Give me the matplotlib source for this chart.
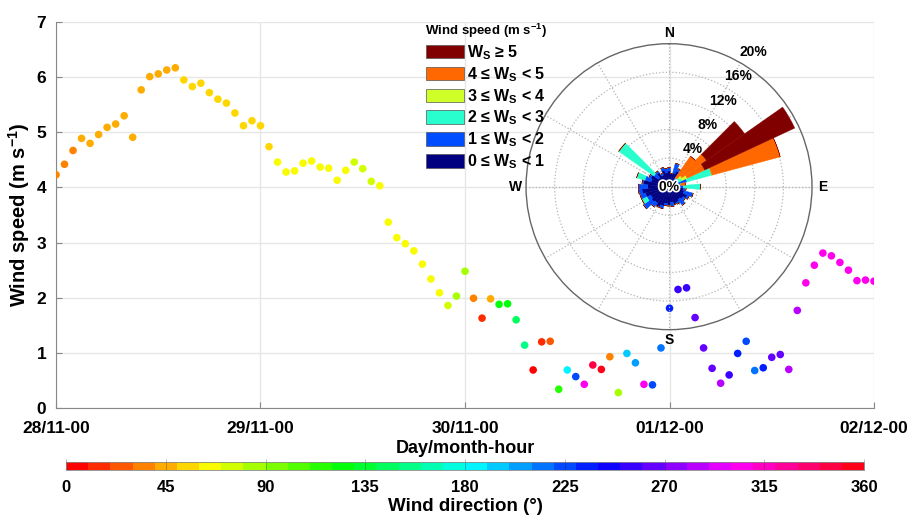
import numpy as np
import pandas as pd
import matplotlib
matplotlib.use('Agg')
import matplotlib.pyplot as plt
import matplotlib.dates as mdates
from matplotlib.patches import Patch
import matplotlib.patheffects as pe

plt.rcParams['font.family'] = ['Liberation Sans', 'DejaVu Sans']
plt.rcParams['font.weight'] = 'bold'
plt.rcParams['axes.labelweight'] = 'bold'
plt.rcParams['mathtext.default'] = 'regular'

# hourly observations from 28/11-00 to 02/12-00
times = pd.date_range('2000-11-28 00:00', '2000-12-02 00:00', freq='h')

speed = [4.23, 4.42, 4.67, 4.89, 4.80, 4.96, 5.09, 5.15, 5.30, 4.91,
         5.77, 6.01, 6.06, 6.13, 6.17, 5.95, 5.83, 5.89, 5.72, 5.60,
         5.53, 5.35, 5.12, 5.21, 5.12, 4.74, 4.46, 4.28, 4.30, 4.44,
         4.48, 4.37, 4.35, 4.13, 4.31, 4.46, 4.34, 4.11, 4.03, 3.37,
         3.09, 2.98, 2.85, 2.61, 2.34, 2.09, 1.86, 2.03, 2.48, 1.99,
         1.63, 1.98, 1.88, 1.89, 1.60, 1.14, 0.69, 1.20, 1.21, 0.34,
         0.69, 0.57, 0.43, 0.78, 0.70, 0.93, 0.28, 0.99, 0.82, 0.43,
         0.42, 1.09, 1.81, 2.15, 2.18, 1.64, 1.09, 0.72, 0.45, 0.60,
         0.99, 1.21, 0.68, 0.73, 0.92, 0.97, 0.70, 1.77, 2.27, 2.59,
         2.81, 2.76, 2.64, 2.50, 2.31, 2.32, 2.30]

direction = [30, 35, 35, 42, 40, 45, 45, 45, 45, 45,
             48, 48, 48, 48, 48, 52, 52, 52, 52, 52,
             52, 55, 52, 52, 55, 58, 62, 62, 62, 62,
             62, 62, 62, 62, 62, 75, 75, 78, 65, 62,
             62, 62, 62, 62, 62, 62, 78, 82, 85, 32,
             18, 45, 120, 120, 145, 155, 5, 18, 25, 110,
             185, 222, 305, 345, 355, 30, 85, 192, 205, 305,
             225, 215, 232, 250, 250, 262, 262, 265, 282, 255,
             238, 225, 212, 235, 265, 268, 285, 285, 305, 305,
             305, 305, 305, 305, 308, 308, 308]

# wind rose: frequency (%) per 10 deg sector for each speed class
sectors = np.arange(0, 360, 10)
rose_0_1 = [2.2, 1.9, 2.0, 2.4, 0.9, 0.8, 0.8, 1.2, 1.2, 1.2, 2.0, 2.2,
            2.8, 2.4, 2.2, 2.4, 2.6, 2.2, 2.7, 2.4, 2.8, 3.2, 2.8, 3.0,
            2.8, 3.4, 3.8, 3.0, 3.6, 2.6, 2.8, 1.8, 2.4, 1.8, 2.4, 2.0]
rose_1_2 = [0.5, 0.0, 1.4, 0.4, 0.6, 0.6, 0.6, 1.4, 0.5, 0.8, 0.4, 1.3,
            0.3, 0.4, 1.0, 0.3, 0.0, 0.6, 0.0, 0.3, 0.4, 0.0, 0.7, 1.4,
            0.6, 0.8, 0.5, 1.3, 0.2, 0.9, 0.3, 0.8, 0.3, 0.3, 0.4, 0.6]
rose_2_3 = [0, 0, 0, 0, 0, 0.4, 0.6, 3.6, 0, 2.4, 0, 0,
            0, 0, 0, 0, 0, 0, 0, 0, 0, 0, 0, 0,
            0.8, 0, 0, 0, 0, 1.2, 0, 6.0, 0, 0, 0, 0]
rose_3_4 = [0, 0, 0, 0, 0, 0.4, 0.8, 0, 0, 0, 0, 0,
            0, 0, 0, 0, 0, 0, 0, 0, 0, 0, 0, 0,
            0, 0, 0, 0, 0, 0, 0, 0, 0, 0, 0, 0]
rose_4_5 = [0, 0, 0, 0, 3.7, 4.2, 2.7, 9.9, 0.6, 0, 0, 0,
            0, 0, 0, 0, 0, 0, 0, 0, 0, 0, 0, 0,
            0, 0, 0, 0, 0, 0, 0, 0, 0, 0, 0, 0]
rose_5_up = [0, 0, 0, 0, 0, 6.5, 13.9, 0, 0, 0, 0, 0,
             0, 0, 0, 0, 0, 0, 0, 0, 0, 0, 0, 0,
             0, 0, 0, 0, 0, 0, 0, 0, 0, 0, 0, 0]
rose = [rose_0_1, rose_1_2, rose_2_3, rose_3_4, rose_4_5, rose_5_up]
class_labels = ['0 ≤ W$_S$ < 1', '1 ≤ W$_S$ < 2', '2 ≤ W$_S$ < 3',
                '3 ≤ W$_S$ < 4', '4 ≤ W$_S$ < 5', 'W$_S$ ≥ 5']
class_colors = plt.cm.jet(np.linspace(0, 1, 6))

cmap = plt.get_cmap('hsv').resampled(36)

fig = plt.figure(figsize=(9.09, 5.17), dpi=100)

ax = fig.add_axes([0.0616, 0.2108, 0.8999, 0.7466])
sc = ax.scatter(times, speed, c=direction, cmap=cmap, vmin=0, vmax=360,
                s=30, edgecolors='none', zorder=3)
ax.set_xlim(times[0], times[-1])
ax.set_ylim(0, 7)
ax.xaxis.set_major_locator(mdates.DayLocator())
ax.xaxis.set_major_formatter(mdates.DateFormatter('%d/%m-%H'))
ax.grid(True, color='#e6e6e6', linewidth=1)
ax.set_axisbelow(True)
for s in ['top', 'right']:
    ax.spines[s].set_visible(False)
for s in ['left', 'bottom']:
    ax.spines[s].set_color('#888888')
ax.tick_params(direction='in', length=4, color='#888888', labelsize=12.5, pad=9)
ax.tick_params(axis='y', pad=7)
ax.set_xlabel('Day/month-hour', fontsize=13, labelpad=3)
ax.set_ylabel('Wind speed (m s$^{-1}$)', fontsize=14.5, labelpad=3)

# colour bar for wind direction
cax = fig.add_axes([0.0726, 0.0909, 0.878, 0.0155])
cb = fig.colorbar(sc, cax=cax, orientation='horizontal', ticks=range(0, 361, 45))
cb.outline.set_edgecolor('#888888')
cb.outline.set_linewidth(0.6)
cax.tick_params(direction='in', length=8, width=0.6, color=(0, 0, 0, 0.3),
                labelsize=12, pad=7)
cb.set_label('Wind direction (°)', fontsize=13.5, labelpad=2)

# wind rose
rax = fig.add_axes([0.5787, 0.3623, 0.3146, 0.5532], projection='polar')
rax.set_facecolor('none')
rax.set_theta_zero_location('N')
rax.set_theta_direction(-1)
theta = np.deg2rad(sectors)
bottom = np.zeros(len(sectors))
for vals, col in zip(rose, class_colors):
    rax.bar(theta, vals, width=np.deg2rad(10), bottom=bottom, color=col,
            edgecolor=col, linewidth=0.3, zorder=3)
    bottom += np.array(vals)
rax.set_ylim(0, 20)
rax.set_rgrids([4, 8, 12, 16], labels=[])
rax.set_thetagrids(range(0, 360, 30),
                   labels=['N', '', '', 'E', '', '', 'S', '', '', 'W', '', ''])
rax.set_axisbelow(True)
rax.grid(color='#b5b5b5', linestyle=':', linewidth=0.9)
rax.spines['polar'].set_color('#666666')
rax.spines['polar'].set_linewidth(1.0)
rax.tick_params(axis='x', labelsize=10, pad=-3)
for pct in [4, 8, 12, 16, 20]:
    rax.text(np.deg2rad(32), pct + 2.2, f'{pct}%', ha='center', va='center',
             fontsize=10, clip_on=False, zorder=5)
rax.text(0, 0, '0%', ha='center', va='center', fontsize=10, zorder=6,
         path_effects=[pe.withStroke(linewidth=2.5, foreground='white')])

handles = [Patch(facecolor=c, edgecolor='#555555', linewidth=0.5) for c in class_colors]
leg = fig.legend(handles[::-1], class_labels[::-1], loc='upper left',
                 bbox_to_anchor=(0.467, 0.958), frameon=False,
                 title='Wind speed (m s$^{-1}$)', title_fontsize=9.5, fontsize=11.5,
                 handlelength=2.38, handleheight=0.94, labelspacing=0.2,
                 handletextpad=0.2, borderpad=0, borderaxespad=0)
leg.get_title().set_fontweight('bold')

fig.savefig('out.png', dpi=100)
